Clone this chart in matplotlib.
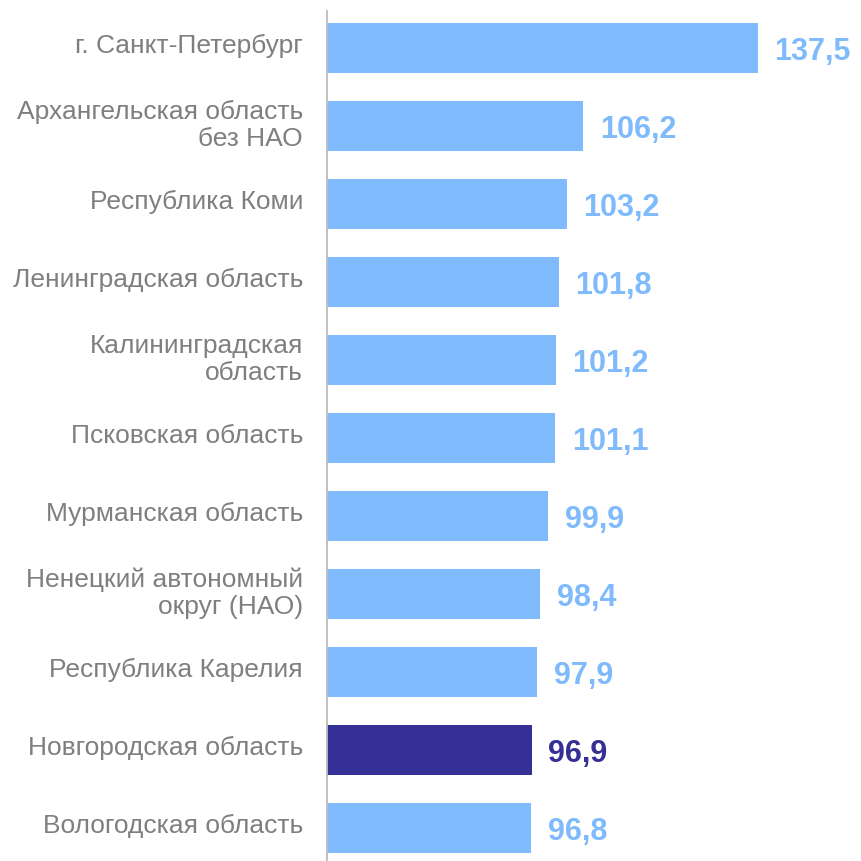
import matplotlib
matplotlib.use("Agg")
import matplotlib.pyplot as plt
import matplotlib.transforms as mtransforms

categories = [
    "г. Санкт-Петербург",
    "Архангельская область\nбез НАО",
    "Республика Коми",
    "Ленинградская область",
    "Калининградская\nобласть",
    "Псковская область",
    "Мурманская область",
    "Ненецкий автономный\nокруг (НАО)",
    "Республика Карелия",
    "Новгородская область",
    "Вологодская область",
]
values = [137.5, 106.2, 103.2, 101.8, 101.2, 101.1, 99.9, 98.4, 97.9, 96.9, 96.8]
highlight = "Новгородская область"

light = "#7FBAFC"
dark = "#343096"
label_gray = "#7F7F7F"

plt.rcParams['font.family'] = ['Liberation Sans', 'DejaVu Sans']

fig = plt.figure(figsize=(8.61, 8.62), dpi=100)
ax = fig.add_axes([326/861, 0, 1 - 326/861, 1])

ys = list(range(len(categories)))
colors = [dark if c == highlight else light for c in categories]
ax.barh(ys, values, height=0.64, left=0, color=colors)

ax.set_xlim(60, 156.0)
ax.set_ylim((862 - 49) / 78, -49 / 78)

for y, v, c in zip(ys, values, colors):
    ax.annotate(f"{v:.1f}".replace(".", ","), xy=(v, y), xytext=(12, -2),
                textcoords="offset points", va="center", ha="left",
                fontsize=22, fontweight="bold", color=c)

ax.set_yticks(ys)
ax.set_yticklabels(categories, fontsize=19, color=label_gray, linespacing=1.15)
ax.tick_params(axis="y", length=0, pad=16.5)
offset = mtransforms.ScaledTranslation(0, 4/72, fig.dpi_scale_trans)
for lbl in ax.get_yticklabels():
    lbl.set_horizontalalignment("right")
    lbl.set_transform(lbl.get_transform() + offset)
ax.set_xticks([])
for s in ax.spines.values():
    s.set_visible(False)
ax.axvline(60, ymin=0, ymax=1 - 12/862, color="#BFBFBF", lw=2)

fig.savefig("out.png", dpi=100)
